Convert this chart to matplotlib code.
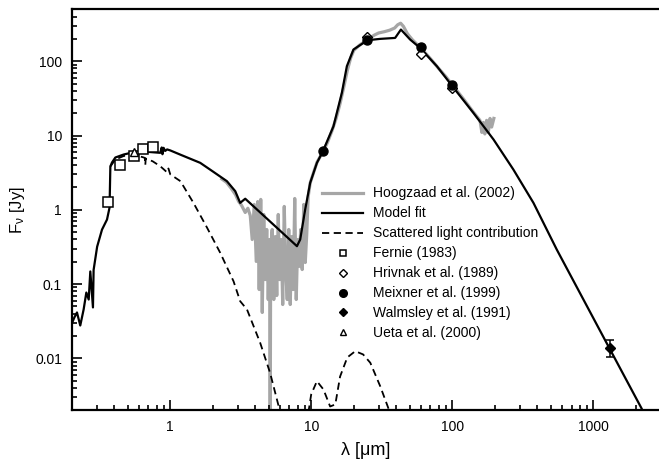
import numpy as np
import matplotlib
matplotlib.use("Agg")
import matplotlib.pyplot as plt
from matplotlib.ticker import FixedLocator, LogLocator, NullFormatter, FuncFormatter
from matplotlib.lines import Line2D

plt.rcParams['font.family'] = ['Liberation Sans', 'DejaVu Sans']
plt.rcParams['mathtext.fontset'] = 'custom'
plt.rcParams['mathtext.rm'] = 'Liberation Sans'
plt.rcParams['mathtext.it'] = 'Liberation Sans'

# ---------------- data ----------------
model_wl = [0.199, 0.209, 0.218, 0.230, 0.243, 0.254, 0.264, 0.271, 0.283, 0.286,
            0.303, 0.328, 0.356, 0.371, 0.376, 0.386, 0.408, 0.467, 0.549, 0.684,
            0.80, 0.849, 0.87, 0.88, 0.897, 0.92, 0.95, 1.0, 1.2, 1.63, 2.0, 2.52,
            2.89, 3.13, 3.40, 7.91, 8.34, 9.05, 9.82, 10.96, 12.09, 14.36, 16.47,
            17.87, 19.9, 25.0, 30.8, 39.3, 43.2, 50.2, 59.1, 77.7, 99.2, 141, 196,
            271, 376, 550, 1313, 2203, 3000]
model_flux = [0.0286, 0.0356, 0.0415, 0.0277, 0.0455, 0.077, 0.062, 0.148, 0.0485, 0.155,
              0.319, 0.541, 0.740, 1.07, 3.83, 4.33, 5.06, 5.55, 5.96, 6.04,
              5.9, 5.85, 6.9, 5.6, 6.83, 6.2, 6.5, 6.3, 5.45, 4.29, 3.29, 2.43,
              1.78, 1.24, 1.41, 0.324, 0.398, 1.01, 2.31, 4.29, 6.15, 13.3, 37.6,
              85.7, 143.7, 191.8, 200, 206, 267, 196, 151, 85.7, 47.1, 20.2, 8.83,
              3.48, 1.24, 0.292, 0.0132, 0.0021, 0.00035]

scat_wl = [0.376, 0.408, 0.467, 0.549, 0.64, 0.66, 0.665, 0.67, 0.75, 0.849, 0.9,
           0.948, 0.97, 1.0, 1.18, 1.46, 1.82, 2.26, 2.81, 3.13, 3.50, 4.34, 5.11,
           6.02, 6.5, np.nan, 9.3, 9.55, 9.98, 10.96, 12.2, 13.6, 14.8, 16.0, 18.0,
           20.5, 23.3, 26.2, 30.8, 35.3, 38.0]
scat_flux = [3.83, 4.75, 5.3, 5.55, 5.1, 5.0, 4.0, 4.9, 4.5, 3.86, 3.5,
             3.2, 3.6, 3.0, 2.43, 1.24, 0.578, 0.264, 0.109, 0.0589, 0.0455, 0.0162, 0.00632,
             0.00188, 0.0009, np.nan, 0.0009, 0.0019, 0.00327, 0.00493, 0.00381, 0.00225, 0.0024,
             0.0057, 0.0103, 0.0125, 0.0113, 0.00873, 0.00422, 0.0021, 0.0009]

iso_wl = [2.32, 2.5, 2.7, 2.9, 3.05, 3.2, 3.4, 3.55,
          3.69, 3.81, 3.94, 4.07, 4.17, 4.27, 4.38, 4.49, 4.60, 4.71, 4.83, 4.95,
          5.07, 5.11, 5.15, 5.28, 5.42, 5.55, 5.69, 5.83, 5.97, 6.12, 6.27, 6.43,
          6.59, 6.75, 6.92, 7.09, 7.27, 7.44, 7.63, 7.82, 8.01, 8.21, 8.41, 8.62,
          8.84, 9.06, 9.28, 9.5, 9.82, 10.5, 11.0, 12.0, 13.0, 14.0, 15.0, 16.0,
          17.0, 18.0, 19.0, 20.0, 22.0, 24.0, 26.0, 28.0, 30.0, 33.0, 36.0, 39.0,
          41.0, 43.0, 45.0, 48.0, 52.0, 56.0, 60.0, 70.0, 80.0, 90.0, 100.0, 120.0,
          140.0, 157.0, 162.0, 166.0, 170.0, 175.0, 180.0, 185.0, 190.0, 197.0]
iso_flux = [2.6, 2.35, 1.95, 1.6, 1.3, 1.15, 0.92, 1.05,
            0.838, 0.398, 1.18, 0.202, 1.29, 0.0845, 1.38, 0.0415, 0.865, 0.115, 0.543, 0.062,
            0.398, 0.0005, 0.292, 0.543, 0.062, 0.436, 0.0702, 0.865, 0.115, 0.398, 0.0531, 1.11,
            0.157, 0.062, 0.543, 0.0531, 0.436, 0.0845, 1.42, 0.062, 0.398, 0.173, 0.543, 0.157,
            1.18, 0.195, 0.465, 1.5, 2.3, 3.4, 4.4, 5.9, 8.0, 11.5, 17.0, 27.0,
            45.0, 75.0, 110.0, 140.0, 165.0, 185.0, 205.0, 225.0, 240.0, 250.0, 262.0, 280.0,
            310.0, 325.0, 295.0, 235.0, 195.0, 170.0, 150.0, 108.0, 80.0, 62.0, 48.0, 31.0,
            21.0, 16.0, 11.0, 15.0, 10.5, 16.0, 11.0, 17.0, 13.0, 17.0]

fernie_wl = [0.36, 0.44, 0.55, 0.64, 0.76]
fernie_flux = [1.27, 3.98, 5.26, 6.62, 7.05]

hrivnak_wl = [25.0, 60.4, 99.0]
hrivnak_flux = [213, 127, 43.9]

meixner_wl = [12.1, 25.0, 60.4, 99.5]
meixner_flux = [6.15, 192, 154, 48.6]

walmsley_wl = [1313]
walmsley_flux = [0.0137]
walmsley_err_lo = [0.0032]
walmsley_err_hi = [0.0039]

ueta_wl = [0.55]
ueta_flux = [5.96]

xticks = [1, 10, 100, 1000]
yticks = [0.01, 0.1, 1, 10, 100]

# ---------------- figure ----------------
fig = plt.figure(figsize=(6.59, 4.59), dpi=100)
ax = fig.add_axes([0.1088, 0.1061, 0.8937, 0.8736])

ax.plot(iso_wl, iso_flux, color='#a6a6a6', lw=2.3, zorder=1)
ax.plot(model_wl, model_flux, color='black', lw=1.6, zorder=2)
ax.plot(scat_wl, scat_flux, color='black', lw=1.3, ls=(0, (4, 2.5)), zorder=2)

ax.plot(fernie_wl, fernie_flux, ls='none', marker='s', ms=6.5, mfc='white', mec='black', mew=1.1, zorder=4)
ax.plot(hrivnak_wl, hrivnak_flux, ls='none', marker='D', ms=4.8, mfc='white', mec='black', mew=1.0, zorder=4)
ax.plot(meixner_wl, meixner_flux, ls='none', marker='o', ms=6.5, mfc='black', mec='black', zorder=5)
ax.errorbar(walmsley_wl, walmsley_flux, yerr=[walmsley_err_lo, walmsley_err_hi], fmt='D', ms=4.8,
            mfc='black', mec='black', ecolor='black', elinewidth=1.1, capsize=3, capthick=1.1, zorder=5)
ax.plot(ueta_wl, ueta_flux, ls='none', marker='^', ms=6, mfc='white', mec='black', mew=1.0, zorder=4)

ax.set_xscale('log')
ax.set_yscale('log')
ax.set_xlim(0.2, 3000)
ax.set_ylim(0.002, 500)

ax.xaxis.set_major_locator(FixedLocator(xticks))
ax.yaxis.set_major_locator(FixedLocator(yticks))
ax.xaxis.set_minor_locator(LogLocator(base=10, subs=np.arange(2, 10), numticks=20))
ax.yaxis.set_minor_locator(LogLocator(base=10, subs=np.arange(2, 10), numticks=20))
fmt = FuncFormatter(lambda v, p: '%g' % v)
ax.xaxis.set_major_formatter(fmt)
ax.yaxis.set_major_formatter(fmt)
ax.xaxis.set_minor_formatter(NullFormatter())
ax.yaxis.set_minor_formatter(NullFormatter())

ax.tick_params(which='both', direction='in', top=False, right=False, labelsize=10, width=1.2, pad=7)
ax.tick_params(which='major', length=7)
ax.tick_params(which='minor', length=3.6)
for s in ax.spines.values():
    s.set_linewidth(1.6)
ax.spines['right'].set_visible(False)

ax.set_xlabel('λ [μm]', fontsize=13, labelpad=6)
ax.set_ylabel(r'F$_\nu$ [Jy]', fontsize=12, labelpad=6)

handles = [
    Line2D([], [], color='#a6a6a6', lw=2.3),
    Line2D([], [], color='black', lw=1.6),
    Line2D([], [], color='black', lw=1.3, ls=(0, (4, 2.5))),
    Line2D([], [], ls='none', marker='s', ms=5, mfc='white', mec='black', mew=1.1),
    Line2D([], [], ls='none', marker='D', ms=4, mfc='white', mec='black', mew=1.0),
    Line2D([], [], ls='none', marker='o', ms=5.5, mfc='black', mec='black'),
    Line2D([], [], ls='none', marker='D', ms=4.5, mfc='black', mec='black'),
    Line2D([], [], ls='none', marker='^', ms=5, mfc='white', mec='black', mew=1.0),
]
labels = ['Hoogzaad et al. (2002)', 'Model fit', 'Scattered light contribution',
          'Fernie (1983)', 'Hrivnak et al. (1989)', 'Meixner et al. (1999)',
          'Walmsley et al. (1991)', 'Ueta et al. (2000)']
leg = fig.legend(handles, labels, loc='upper left', bbox_to_anchor=(321.7 / 659, 1 - 186.5 / 459),
                 frameon=False, fontsize=10, handlelength=3.0, handletextpad=0.7,
                 labelspacing=0.43, borderpad=0, borderaxespad=0, numpoints=1)

fig.savefig('out.png', dpi=100)
